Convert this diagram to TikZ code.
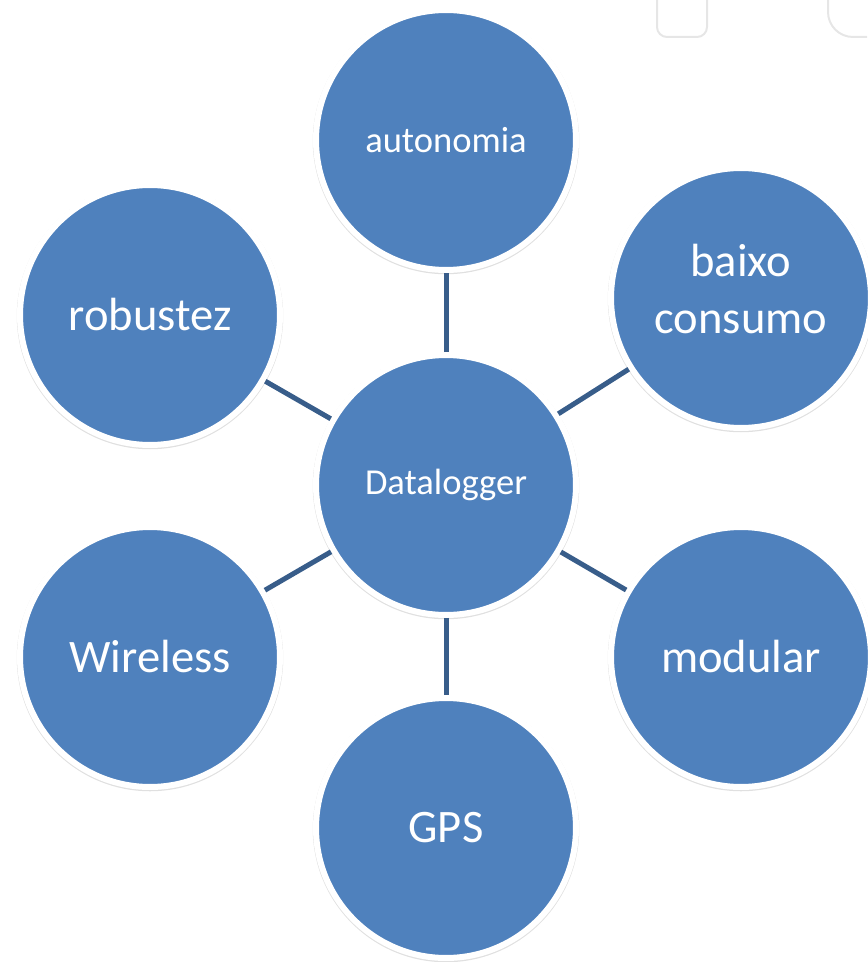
\documentclass[tikz,border=0pt]{standalone}
\usepackage{fontspec}
\setmainfont{Carlito}
\usetikzlibrary{shadows}
\definecolor{circleblue}{HTML}{4F81BD}
\definecolor{linkblue}{HTML}{385D8A}
\definecolor{boxgray}{HTML}{E6E6E6}

\begin{document}
\begin{tikzpicture}[x=0.02cm,y=-0.02cm]
        % Define styles
        \tikzset{
            feature/.style={circle, draw=white, line width=0.12cm, fill=circleblue, text=white,
                minimum size=5.2cm, align=center, font=\fontsize{26.5}{32.4}\selectfont,
                drop shadow={shadow xshift=0cm, shadow yshift=-0.02cm, shadow scale=1.025, opacity=0.12, fill=black}},
            small/.style={font=\fontsize{20.8}{25}\selectfont},
            link/.style={draw=linkblue, line width=0.1cm}
        }
        \useasboundingbox (0,0) rectangle (867,962);

        % Faint boxes in the corner
        \begin{scope}
            \clip (0,0) rectangle (867,962);
            \draw[boxgray, line width=0.04cm, rounded corners=0.2cm] (657,-30) rectangle (707,37);
            \draw[boxgray, line width=0.04cm, rounded corners=0.5cm] (828,-30) rectangle (900,37);
        \end{scope}

        % Nodes
        \node[feature, small] (datalogger_node) at (446,485) {Datalogger};
        \node[feature, small] (autonomia_node) at (446,140) {autonomia};
        \node[feature] (consumo_node) at (741,298) {baixo\\consumo\\[-0.78cm]};
        \node[feature] (robustez_node) at (150,315) {robustez};
        \node[feature] (wireless_node) at (150,657) {Wireless};
        \node[feature] (modular_node) at (741,657) {modular};
        \node[feature] (gps_node) at (446,828) {GPS};

        % Links
        \draw[link] (datalogger_node) -- (autonomia_node);
        \draw[link] (datalogger_node) -- (consumo_node);
        \draw[link] (datalogger_node) -- (robustez_node);
        \draw[link] (datalogger_node) -- (wireless_node);
        \draw[link] (datalogger_node) -- (modular_node);
        \draw[link] (datalogger_node) -- (gps_node);
    \end{tikzpicture}
\end{document}
